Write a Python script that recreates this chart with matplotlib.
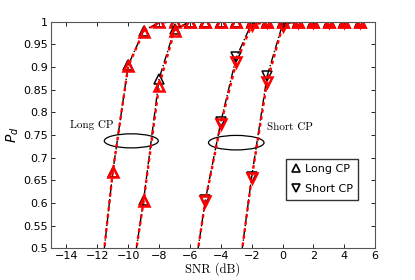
import numpy as np
import matplotlib
matplotlib.use("Agg")
import matplotlib.pyplot as plt
from matplotlib.patches import Ellipse
from matplotlib.lines import Line2D

# SNR grids (dB)
snr_long1 = np.arange(-12, 6)
snr_long2 = np.arange(-10, 6)
snr_short1 = np.arange(-6, 6)
snr_short2 = np.arange(-3, 6)

# Long CP curves (black = first method, red = second method)
pd_long1_k = [0.36, 0.669, 0.904, 0.980, 0.998] + [1.0] * 13
pd_long1_r = [0.36, 0.669, 0.902, 0.978, 0.998] + [1.0] * 13
pd_long2_k = [0.38, 0.607, 0.874, 0.983, 1.0] + [1.0] * 11
pd_long2_r = [0.38, 0.605, 0.859, 0.980, 1.0] + [1.0] * 11

# Short CP curves
pd_short1_k = [0.38, 0.607, 0.779, 0.921, 0.996, 1.0] + [1.0] * 6
pd_short1_r = [0.38, 0.605, 0.774, 0.910, 0.992, 1.0] + [1.0] * 6
pd_short2_k = [0.40, 0.658, 0.880, 0.994, 1.0] + [1.0] * 4
pd_short2_r = [0.40, 0.655, 0.867, 0.990, 1.0] + [1.0] * 4

xticks = np.arange(-14, 7, 2)
yticks = np.arange(0.5, 1.001, 0.05)

fig = plt.figure(figsize=(4.15, 2.8), dpi=100)
ax = fig.add_axes([0.123, 0.113, 0.781, 0.81])

sets = [
    (snr_long1, pd_long1_k, pd_long1_r, '^'),
    (snr_long2, pd_long2_k, pd_long2_r, '^'),
    (snr_short1, pd_short1_k, pd_short1_r, 'v'),
    (snr_short2, pd_short2_k, pd_short2_r, 'v'),
]
for x, yk, yr, m in sets:
    ax.plot(x, yk, color='black', linestyle='-.', linewidth=1.0,
            marker=m, markersize=7.5, markerfacecolor='none',
            markeredgecolor='black', markeredgewidth=1.1)
    ax.plot(x, yr, color='red', linestyle=(0, (1.5, 1.5)), linewidth=1.7,
            marker=m, markersize=6.5, markerfacecolor='none',
            markeredgecolor='red', markeredgewidth=1.8)

# annotation ellipses
ax.add_patch(Ellipse((-9.8, 0.737), 3.5, 0.031, fill=False, edgecolor='black', linewidth=0.9))
ax.add_patch(Ellipse((-3.0, 0.733), 3.6, 0.032, fill=False, edgecolor='black', linewidth=0.9))
ax.text(-13.8, 0.765, 'Long CP', family='cmr10', fontsize=8)
ax.text(-1.0, 0.762, 'Short CP', family='cmr10', fontsize=8)

ax.set_xlim(-15, 6)
ax.set_ylim(0.5, 1.0)
ax.set_xticks(xticks)
ax.set_yticks(yticks)
ax.set_xticklabels([f"{v:g}".replace('-', '\u2212') for v in xticks], fontsize=8)
ax.set_yticklabels([f"{v:.2f}".rstrip('0').rstrip('.') for v in yticks], fontsize=8)
ax.tick_params(direction='in', top=True, right=True, length=3, width=0.6, pad=2)
for s in ax.spines.values():
    s.set_color('#555555')
    s.set_linewidth(0.8)

ax.set_xlabel('SNR (dB)', family='cmr10', fontsize=9, labelpad=1)
ax.set_ylabel('$P_d$', fontsize=10, labelpad=2)

handles = [
    Line2D([], [], linestyle='none', marker='^', markersize=6,
           markerfacecolor='none', markeredgecolor='black', markeredgewidth=1.2),
    Line2D([], [], linestyle='none', marker='v', markersize=6,
           markerfacecolor='none', markeredgecolor='black', markeredgewidth=1.2),
]
ax.legend(handles, ['Long CP', 'Short CP'], loc='lower right',
          bbox_to_anchor=(0.965, 0.19), fontsize=8, fancybox=False,
          edgecolor='#333333', framealpha=1, handlelength=0.8,
          handletextpad=0.4, borderpad=0.5, labelspacing=0.9)

fig.savefig("out.png", dpi=100)
